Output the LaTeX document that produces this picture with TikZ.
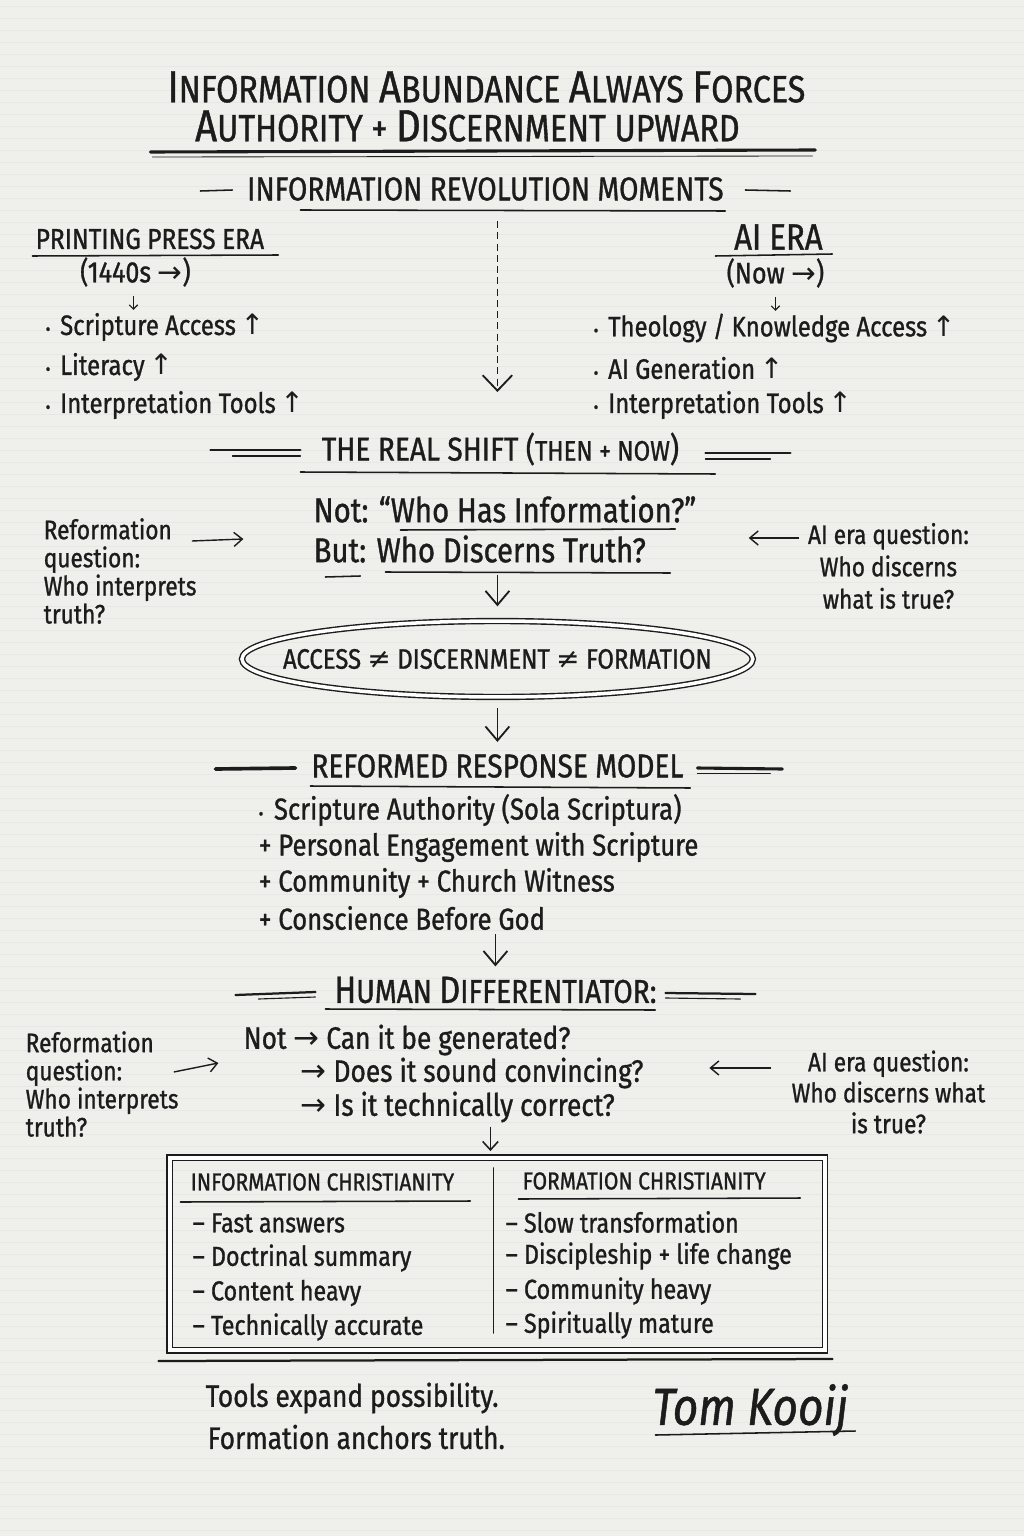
\documentclass[tikz,border=0pt]{standalone}
\usepackage{fontspec}
\setmainfont[FakeStretch=0.85, FakeBold=1]{Fira Sans}
\newfontfamily\arrowfont{DejaVu Sans}
\usetikzlibrary{positioning, calc, arrows.meta, shapes.geometric}

\definecolor{paper}{HTML}{EFEFEC}
\definecolor{paperline}{HTML}{E7E7E4}
\definecolor{ink}{HTML}{1C1C1C}

\newcommand{\capinit}[1]{{\fontsize{32}{33}\selectfont #1}}
\newcommand{\headinit}[1]{{\fontsize{27}{28}\selectfont #1}}
\newcommand{\dotitem}{{\fontsize{12}{12}\selectfont\textbullet}\hspace{0.35em}}
\newcommand{\grows}{\,{\arrowfont ↑}}
\newcommand{\goes}{{\arrowfont →}}
\newcommand{\isnot}{{\arrowfont ≠}}

\tikzset{
    every node/.style={inner sep=0pt, text=ink},
    ink line/.style={draw=ink, line width=1.1pt, line cap=round},
    brush/.style={draw=ink, line width=2.2pt, line cap=round},
    flow/.style={draw=ink, line width=1.3pt, -{Straight Barb[length=10pt, width=17pt]}},
    short flow/.style={draw=ink, line width=1.1pt, -{Straight Barb[length=6pt, width=11pt]}},
    side flow/.style={draw=ink, line width=1pt, -{Straight Barb[length=6pt, width=10pt]}},
    tick flow/.style={draw=ink, line width=0.8pt, -{Straight Barb[length=3pt, width=6pt]}},
    title/.style={font=\fontsize{27}{30}\selectfont},
    sechead/.style={font=\fontsize{23.5}{26}\selectfont},
    item/.style={font=\fontsize{20}{24}\selectfont, anchor=west},
    bigitem/.style={font=\fontsize{24.5}{28}\selectfont, anchor=west},
    listitem/.style={font=\fontsize{21.5}{25}\selectfont, anchor=west},
    note/.style={font=\fontsize{19}{20}\selectfont},
    colhead/.style={font=\fontsize{17.5}{20}\selectfont, anchor=west},
    colitem/.style={font=\fontsize{19.5}{22}\selectfont, anchor=west},
}

\begin{document}
\begin{tikzpicture}[x=0.025cm, y=-0.025cm]
    % paper
    \fill[paper] (0,0) rectangle (1024,1536);
    \foreach \yy in {6,18,...,1530} {
        \draw[paperline, line width=0.6pt] (0,\yy) -- (1024,\yy);
    };
    \useasboundingbox (0,0) rectangle (1024,1536);

    % title
    \node[title] (title1) at (486,87) {\capinit{I}NFORMATION \capinit{A}BUNDANCE \capinit{A}LWAYS \capinit{F}ORCES};
    \node[title] (title2) at (467,126) {\capinit{A}UTHORITY + \capinit{D}ISCERNMENT UPWARD};
    \draw[brush] (150,152) -- (815,150);
    \draw[ink line, line width=0.6pt] (152,157) -- (812,156);

    % revolution moments
    \node[sechead] (revol) at (485,189) {INFORMATION REVOLUTION MOMENTS};
    \draw[ink line] (200,191) -- (232,190);
    \draw[ink line] (745,190) -- (790,191);
    \draw[ink line] (300,210) -- (725,211);
    \coordinate (revolend) at (497,392);
    \draw[flow, -{Straight Barb[length=11pt, width=21pt]}, dash pattern=on 5pt off 3pt] (revol.south -| revolend) ++(0,20) -- (revolend);

    % printing press era
    \node[font=\fontsize{20.5}{24}\selectfont, anchor=west] (pressera) at (35,239) {PRINTING PRESS ERA};
    \draw[ink line] (32,256) -- (278,255);
    \node[font=\fontsize{21}{24}\selectfont] (pressdate) at (135,272) {(1440s \goes)};
    \draw[tick flow] ($(pressdate.south)+(-2,9)$) -- ++(0,14);
    \node[item] (press1) at (45,327) {\dotitem Scripture Access\grows};
    \node[item] (press2) at (45,367) {\dotitem Literacy\grows};
    \node[item] (press3) at (45,405) {\dotitem Interpretation Tools\grows};

    % ai era
    \node[font=\fontsize{26}{28}\selectfont] (aiera) at (778,237) {AI ERA};
    \draw[ink line] (715,256) -- (832,254);
    \node[font=\fontsize{21}{24}\selectfont] (aidate) at (775,273) {(Now \goes)};
    \draw[tick flow] ($(aidate.south)+(0,9)$) -- ++(0,14);
    \node[item] (ai1) at (593,328) {\dotitem Theology / Knowledge Access\grows};
    \node[item] (ai2) at (593,368) {\dotitem AI Generation\grows};
    \node[item] (ai3) at (593,405) {\dotitem Interpretation Tools\grows};

    % the real shift
    \node[sechead] (shift) at (500,449) {THE REAL SHIFT ({\fontsize{20}{22}\selectfont THEN + NOW})};
    \draw[ink line, line width=1.6pt] (210,450) -- (300,450);
    \draw[ink line, line width=0.8pt] (232,456) -- (300,456);
    \draw[ink line, line width=1.6pt] (705,453) -- (790,453);
    \draw[ink line, line width=0.8pt] (705,459) -- (770,459);
    \draw[ink line] (300,472) -- (715,474);

    \node[bigitem] (notq) at (313,509) {Not: “Who Has Information?”};
    \node[bigitem] (butq) at (313,549) {But: Who Discerns Truth?};
    \draw[ink line] (400,530) -- (675,529);
    \draw[ink line] (385,572) -- (670,573);
    \draw[ink line] (325,577) -- (360,576);

    \node[note, align=left, anchor=north west] (reformq1) at (43,518) {Reformation\\question:\\Who interprets\\truth?};
    \node[note, align=center, font=\fontsize{19}{23}\selectfont] (aiq1) at (888,566) {AI era question:\\Who discerns\\what is true?};
    \draw[side flow] ($(reformq1.north east)+(-5,23)$) -- ($(butq.west)+(-70,-10)$);
    \draw[side flow] ($(aiq1.west)+(-9,-28)$) -- ++(-50,0);

    % access ellipse
    \node[ellipse, draw=ink, line width=1pt, double, double distance=2.5pt, inner xsep=-24pt, inner ysep=2pt, minimum width=358pt, minimum height=54pt, font=\fontsize{20}{24}\selectfont] (access) at (497,659) {ACCESS \isnot{} DISCERNMENT \isnot{} FORMATION};
    \draw[flow] ($(butq.south -| access.north)+(0,12)$) -- ($(access.north)+(0,-14)$);

    % reformed response model
    \node[sechead] (reformed) at (497,766) {REFORMED RESPONSE MODEL};
    \draw[flow] ($(access.south)+(0,10)$) -- ($(reformed.north)+(0,-12)$);
    \draw[brush, line width=2.6pt] (215,769) -- (295,768);
    \draw[brush] (697,768) -- (782,769);
    \draw[ink line, line width=0.7pt] (697,773) -- (770,773);
    \draw[ink line] (310,786) -- (690,788);

    \node[listitem] (model1) at (258,810) {\dotitem Scripture Authority (Sola Scriptura)};
    \node[listitem] (model2) at (258,847) {+ Personal Engagement with Scripture};
    \node[listitem] (model3) at (258,883) {+ Community + Church Witness};
    \node[listitem] (model4) at (258,918) {+ Conscience Before God};

    % human differentiator
    \node[sechead] (human) at (495,990) {\headinit{H}UMAN \headinit{D}IFFERENTIATOR:};
    \draw[flow] ($(model4.south -| human.north)+(0,4)$) -- ($(human.north)+(0,-10)$);
    \draw[ink line, line width=1.6pt] (235,995) -- (315,992);
    \draw[ink line, line width=0.8pt] (258,999) -- (315,997);
    \draw[ink line, line width=1.6pt] (665,993) -- (755,994);
    \draw[ink line, line width=0.8pt] (665,998) -- (740,999);
    \draw[ink line] (325,1009) -- (655,1010);

    \node[listitem, font=\fontsize{22}{25}\selectfont] (gen1) at (243,1040) {Not \goes{} Can it be generated?};
    \node[listitem, font=\fontsize{22}{25}\selectfont] (gen2) at (300,1073) {\goes{} Does it sound convincing?};
    \node[listitem, font=\fontsize{22}{25}\selectfont] (gen3) at (300,1107) {\goes{} Is it technically correct?};

    \node[note, align=left, anchor=north west] (reformq2) at (25,1031) {Reformation\\question:\\Who interprets\\truth?};
    \node[note, align=center, font=\fontsize{19}{22}\selectfont] (aiq2) at (888,1092) {AI era question:\\Who discerns what\\is true?};
    \draw[side flow] ($(reformq2.north east)+(-5,41)$) -- ($(gen2.west)+(-82,-10)$);
    \draw[side flow] ($(aiq2.west)+(-20,-24)$) -- ++(-62,0);

    % comparison box
    \node[draw=ink, line width=0.9pt, double, double distance=3pt, minimum width=466pt, minimum height=137pt] (compbox) at (497,1254) {};
    \draw[ink line, line width=1.6pt] (158,1361) -- (832,1359);
    \draw[short flow] ($(gen3.south -| compbox.north)+(-7,4)$) -- ($(compbox.north)+(-7,-6)$);
    \draw[ink line] (493,1168) -- (493,1333);

    \node[colhead] (infohead) at (190,1182) {INFORMATION CHRISTIANITY};
    \draw[ink line] (180,1202) -- (470,1201);
    \node[colitem] (info1) at (192,1223) {– Fast answers};
    \node[colitem] (info2) at (192,1258) {– Doctrinal summary};
    \node[colitem] (info3) at (192,1293) {– Content heavy};
    \node[colitem] (info4) at (192,1327) {– Technically accurate};

    \node[colhead] (formhead) at (522,1181) {FORMATION CHRISTIANITY};
    \draw[ink line] (518,1199) -- (800,1198);
    \node[colitem] (form1) at (505,1222) {– Slow transformation};
    \node[colitem] (form2) at (505,1256) {– Discipleship + life change};
    \node[colitem] (form3) at (505,1291) {– Community heavy};
    \node[colitem] (form4) at (505,1325) {– Spiritually mature};

    % closing lines
    \node[listitem, font=\fontsize{22}{25}\selectfont] (close1) at (205,1398) {Tools expand possibility.};
    \node[listitem, font=\fontsize{22}{25}\selectfont] (close2) at (207,1437) {Formation anchors truth.};
    \node[font=\fontsize{37}{40}\selectfont\itshape] (signature) at (750,1410) {Tom Kooij};
    \draw[ink line] (655,1435) -- (855,1431);
\end{tikzpicture}
\end{document}
